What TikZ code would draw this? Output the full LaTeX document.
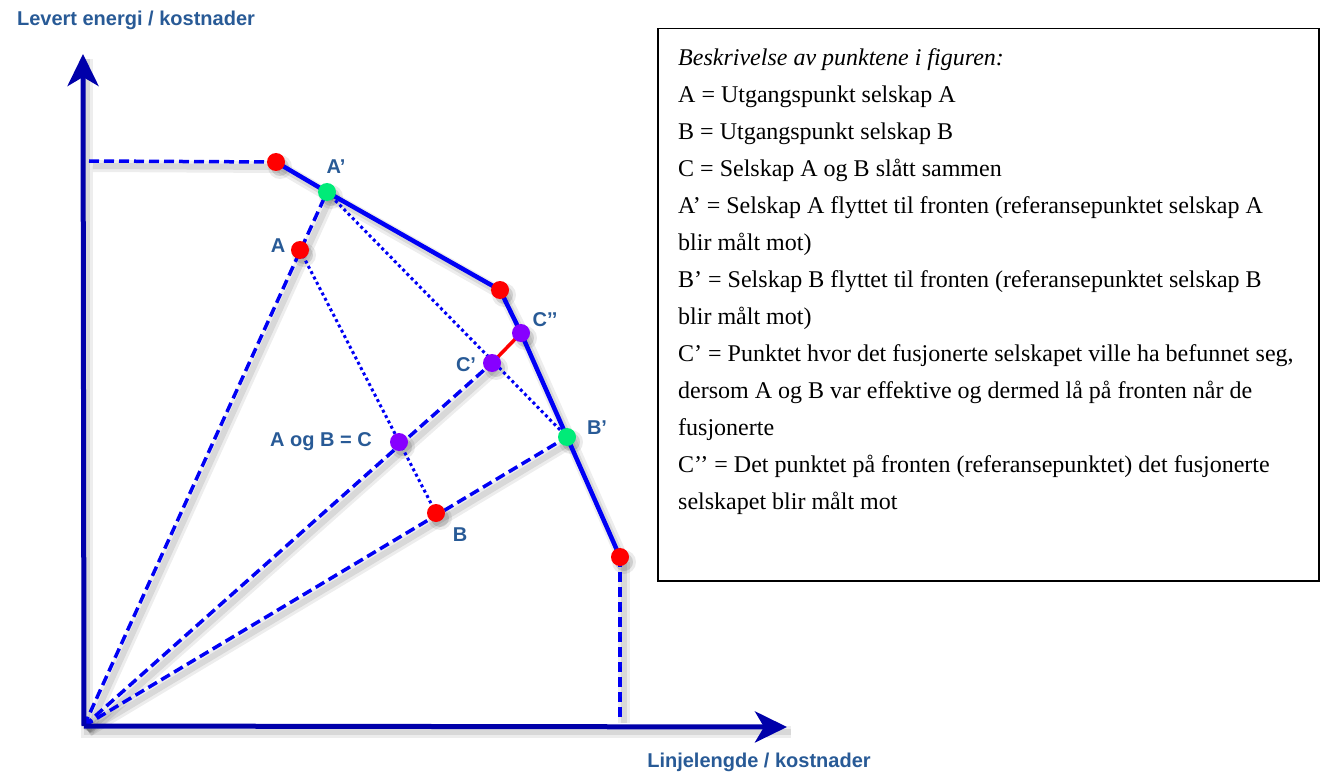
\documentclass[tikz,border=0pt]{standalone}
\usepackage{fontspec}
\setmainfont{Liberation Serif}
\newfontfamily\lblfont{Liberation Sans}
\usetikzlibrary{arrows.meta}
\definecolor{axisblue}{RGB}{0,0,170}
\definecolor{lineblue}{RGB}{0,0,245}
\definecolor{ptred}{RGB}{255,0,0}
\definecolor{ptgreen}{RGB}{0,235,120}
\definecolor{ptpurple}{RGB}{135,0,255}
\definecolor{lblblue}{RGB}{40,90,150}
\pgfdeclarelayer{shadow}
\pgfdeclarelayer{background}
\pgfsetlayers{shadow,background,main}
\begin{document}
\begin{tikzpicture}[x=1pt,y=-1pt,
  dot/.style={circle, inner sep=0pt, minimum size=18pt},
  axisline/.style={draw=axisblue, line width=5pt},
  axistip/.style={-{Stealth[length=32pt,width=31pt,inset=9pt]}},
  frontline/.style={draw=lineblue, line width=4.5pt, line join=round},
  dashline/.style={draw=lineblue, line width=3.5pt, dash pattern=on 10pt off 5pt},
  dotline/.style={draw=lineblue, line width=3pt, dash pattern=on 3pt off 3pt},
  diffline/.style={draw=ptred, line width=3.5pt},
  shadeA/.style={draw=black, opacity=0.07, line width=12pt},
  shadeB/.style={draw=black, opacity=0.09, line width=6pt},
  lbl/.style={font=\lblfont\bfseries\fontsize{20}{24}\selectfont, text=lblblue, inner sep=0pt},
  desc/.style={font=\fontsize{24}{37}\selectfont, align=left, inner sep=0pt, anchor=north west}
]
\useasboundingbox (0,0) rectangle (1323,773);

% points
\node[dot, fill=ptred]    (P1)  at (276,162) {};
\node[dot, fill=ptgreen]  (Ap)  at (327,192) {};
\node[dot, fill=ptred]    (A)   at (300,250) {};
\node[dot, fill=ptred]    (P2)  at (500,290) {};
\node[dot, fill=ptpurple] (Cpp) at (521,333) {};
\node[dot, fill=ptpurple] (Cp)  at (492,363) {};
\node[dot, fill=ptgreen]  (Bp)  at (567,437) {};
\node[dot, fill=ptpurple] (C)   at (399,442) {};
\node[dot, fill=ptred]    (B)   at (436,513) {};
\node[dot, fill=ptred]    (P3)  at (620,557) {};
\coordinate (O)    at (84,726);
\coordinate (ytip) at (83,54);
\coordinate (xtip) at (787,727);
\coordinate (hl)   at (89,161);
\coordinate (vb)   at (620,718);

% labels
\node[lbl] (lAp)  at (336,167) {A’};
\node[lbl] (lA)   at (278,246) {A};
\node[lbl] (lCpp) at (545,320) {C’’};
\node[lbl] (lCp)  at (466,365) {C’};
\node[lbl] (lBp)  at (597,428) {B’};
\node[lbl] (lC)   at (321,442) {A og B = C};
\node[lbl] (lB)   at (460,535) {B};
\node[lbl] (ylab) at (136,20) {Levert energi / kostnader};
\node[lbl] (xlab) at (759,762) {Linjelengde / kostnader};

% description box
\node[draw=black, line width=1.5pt, minimum width=661pt, minimum height=552pt, anchor=north west, inner sep=0pt] (box) at (657,28) {};
\node[desc] (desctext) at (678,48) {\textit{Beskrivelse av punktene i figuren:}\\
A = Utgangspunkt selskap A\\
B = Utgangspunkt selskap B\\
C = Selskap A og B slått sammen\\
A’ = Selskap A flyttet til fronten (referansepunktet selskap A\\
blir målt mot)\\
B’ = Selskap B flyttet til fronten (referansepunktet selskap B\\
blir målt mot)\\
C’ = Punktet hvor det fusjonerte selskapet ville ha befunnet seg,\\
dersom A og B var effektive og dermed lå på fronten når de\\
fusjonerte\\
C’’ = Det punktet på fronten (referansepunktet) det fusjonerte\\
selskapet blir målt mot};

% shadows
\begin{pgfonlayer}{shadow}
\begin{scope}[transform canvas={shift={(4pt,-5pt)}}]
  \foreach \s in {shadeA,shadeB} {
    \draw[\s] (ytip) |- (xtip);
    \draw[\s] (P1.center) -- (Ap.center) -- (P2.center) -- (Cpp.center) -- (Bp.center) -- (P3.center);
    \draw[\s] (hl) -- (P1.center);
    \draw[\s] (P3.center) -- (vb);
    \draw[\s] (O) -- (Ap.center);
    \draw[\s] (O) -- (Cp.center);
    \draw[\s] (O) -- (Bp.center);
  }
  \foreach \p in {P1,Ap,A,P2,Cpp,Cp,Bp,C,B,P3} {
    \fill[black, opacity=0.08] (\p) circle (12pt);
    \fill[black, opacity=0.12] (\p) circle (9pt);
  }
\end{scope}
\end{pgfonlayer}

% connectors
\begin{pgfonlayer}{background}
  \draw[dashline] (hl) -- (P1.center);
  \draw[dashline] (P3.center) -- (vb);
  \draw[dashline] (O) -- (Ap.center);
  \draw[dashline] (O) -- (Cp.center);
  \draw[dashline] (O) -- (Bp.center);
  \draw[dotline] (Ap.center) -- (Bp.center);
  \draw[dotline] (A.center) -- (B.center);
  \draw[diffline] (Cp.center) -- (Cpp.center);
  \draw[frontline] (P1.center) -- (Ap.center) -- (P2.center) -- (Cpp.center) -- (Bp.center) -- (P3.center);
  \draw[axisline, axistip] (O) -- (xtip);
  \draw[axisline, axistip] (O) -- (ytip);
\end{pgfonlayer}
\end{tikzpicture}
\end{document}
